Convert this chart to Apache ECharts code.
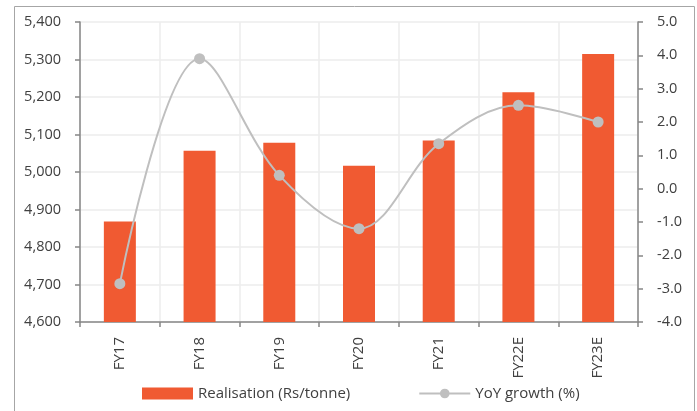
<!DOCTYPE html>
<html>
<head>
<meta charset="utf-8">
<script src="https://cdn.jsdelivr.net/npm/echarts@6/dist/echarts.min.js"></script>
<style>
html,body{margin:0;padding:0;background:#fff;}
#c{width:697px;height:411px;}
</style>
</head>
<body>
<div id="c"></div>
<script>
const categories = ['FY17','FY18','FY19','FY20','FY21','FY22E','FY23E'];
const realisation = [4868, 5057, 5078, 5017, 5084, 5213, 5315];
const yoyGrowth = [-2.85, 3.9, 0.4, -1.2, 1.35, 2.5, 2.0];
const leftTicks = {min: 4600, max: 5400, interval: 100};
const rightTicks = {min: -4, max: 5, interval: 1};

const FONT = 'Open Sans';
const TXT = '#404040';
const chart = echarts.init(document.getElementById('c'), null, {renderer: 'canvas'});
chart.setOption({
  animation: false,
  backgroundColor: '#fff',
  graphic: [{
    type: 'rect', left: 12, top: 4, silent: true, z: -1,
    shape: {width: 680, height: 406},
    style: {fill: 'none', stroke: '#a6a6a6', lineWidth: 1}
  }],
  grid: {left: 80, right: 59, top: 22, bottom: 89, containLabel: false},
  legend: {
    left: 137, top: 381, itemWidth: 51, itemHeight: 12, itemGap: 68,
    textStyle: {fontFamily: FONT, fontSize: 15, color: TXT},
    data: [
      {name: 'Realisation (Rs/tonne)', icon: 'rect'},
      {name: 'YoY growth (%)'}
    ]
  },
  xAxis: {
    type: 'category', data: categories,
    axisLine: {onZero: false, lineStyle: {color: '#868686', width: 1.5}},
    axisTick: {show: true, length: 5, lineStyle: {color: '#868686', width: 1.5}},
    axisLabel: {rotate: 90, margin: 15, fontFamily: FONT, fontSize: 15, color: TXT},
    splitLine: {show: true, lineStyle: {color: '#ececec', width: 1.5}}
  },
  yAxis: [{
    type: 'value', min: leftTicks.min, max: leftTicks.max, interval: leftTicks.interval,
    axisLine: {show: true, lineStyle: {color: '#868686', width: 1.5}},
    axisTick: {show: true, length: 5, lineStyle: {color: '#868686', width: 1.5}},
    axisLabel: {margin: 19, fontFamily: FONT, fontSize: 14.5, color: TXT,
      formatter: v => v.toLocaleString('en-US')},
    splitLine: {show: true, lineStyle: {color: '#ececec', width: 1.5}}
  }, {
    type: 'value', min: rightTicks.min, max: rightTicks.max, interval: rightTicks.interval,
    position: 'right',
    axisLine: {show: true, onZero: false, lineStyle: {color: '#868686', width: 1.5}},
    axisTick: {show: true, length: 5, lineStyle: {color: '#868686', width: 1.5}},
    axisLabel: {margin: 19, fontFamily: FONT, fontSize: 14.5, color: TXT,
      formatter: v => v.toFixed(1)},
    splitLine: {show: false}
  }],
  series: [{
    name: 'Realisation (Rs/tonne)', type: 'bar', data: realisation, yAxisIndex: 0,
    barWidth: 32,
    itemStyle: {color: '#F05A32'}
  }, {
    name: 'YoY growth (%)', type: 'line', data: yoyGrowth, yAxisIndex: 1,
    smooth: 0.35, symbol: 'circle', symbolSize: 11,
    lineStyle: {color: '#BFBFBF', width: 2},
    itemStyle: {color: '#BFBFBF'}
  }]
});
</script>
</body>
</html>
